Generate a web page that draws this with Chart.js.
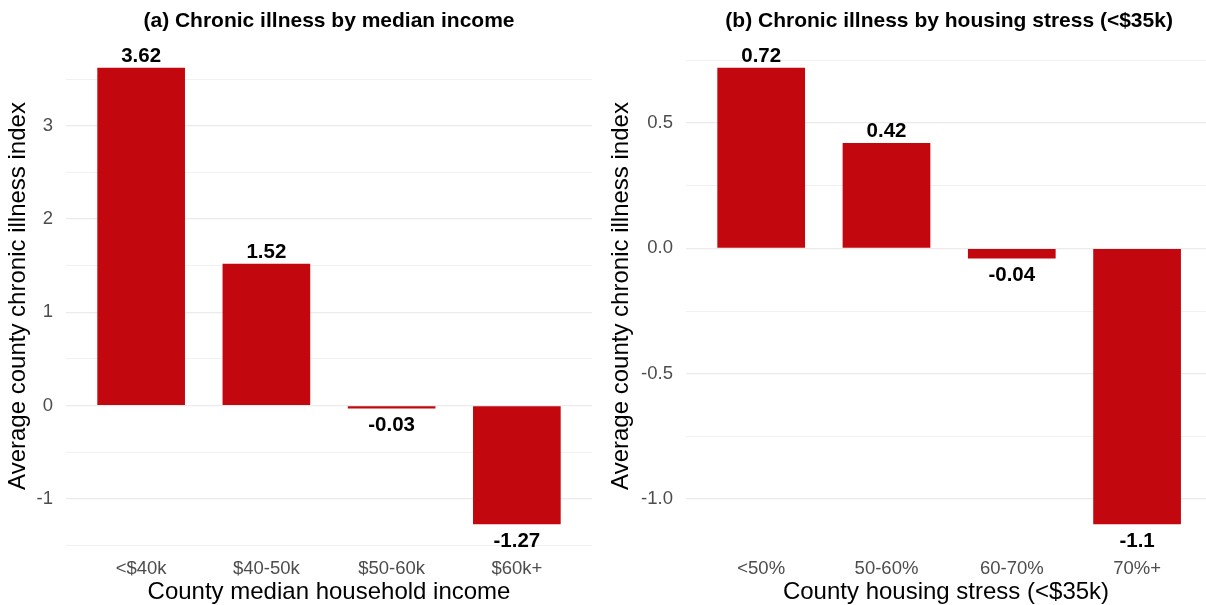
<!DOCTYPE html>
<html>
<head>
<meta charset="utf-8">
<title>Chronic illness index</title>
<script src="https://cdn.jsdelivr.net/npm/chart.js@4/dist/chart.umd.min.js"></script>
<style>
  body { margin: 0; background: #fff; }
  .wrap { display: flex; width: 1206px; height: 605px; }
  .panel { position: relative; width: 603px; height: 605px; }
</style>
</head>
<body>
<div class="wrap">
  <div class="panel"><canvas id="incomeChart"></canvas></div>
  <div class="panel"><canvas id="stressChart"></canvas></div>
</div>
<script>
// panel (a): median household income groups
const incomeGroups = ['<$40k', '$40-50k', '$50-60k', '$60k+'];
const incomeIndex = [3.62, 1.52, -0.03, -1.27];
const incomeTicks = [-1, 0, 1, 2, 3];

// panel (b): housing stress among <$35k households
const stressGroups = ['<50%', '50-60%', '60-70%', '70%+'];
const stressIndex = [0.72, 0.42, -0.04, -1.1];
const stressTicks = [-1.0, -0.5, 0.0, 0.5];

const FONT = '"Liberation Sans", Arial, Helvetica, sans-serif';
const BAR_RED = '#c3070f';
const GRID = '#ebebeb';

// value labels above/below the bars + panel title
const barText = {
  id: 'barText',
  afterDatasetsDraw(chart, args, opts) {
    const ctx = chart.ctx;
    const meta = chart.getDatasetMeta(0);
    const values = chart.data.datasets[0].data;
    ctx.save();
    ctx.fillStyle = '#000';
    ctx.textAlign = 'center';
    ctx.font = 'bold 20.5px ' + FONT;
    meta.data.forEach((bar, i) => {
      const v = values[i].y;
      if (v >= 0) {
        ctx.textBaseline = 'bottom';
        ctx.fillText(String(v), bar.x, bar.y - 1);
      } else {
        ctx.textBaseline = 'top';
        ctx.fillText(String(v), bar.x, bar.y + 7);
      }
    });
    ctx.font = 'bold 21px ' + FONT;
    ctx.textBaseline = 'middle';
    ctx.fillText(opts.text, chart.scales.x.getPixelForValue(1.5), 21);
    ctx.restore();
  }
};

function drawPanel(id, groups, values, majors, step, yMin, yMax, xMax, axisW, rightPad, xTitle, title, digits) {
  // grid every half step, labels only on the majors
  const gridVals = [];
  for (let v = majors[0] - step; v <= majors[majors.length - 1] + step + 1e-9; v += step / 2) {
    const r = Math.round(v * 1000) / 1000;
    if (r >= yMin && r <= yMax) gridVals.push(r);
  }
  const isMajor = v => majors.some(m => Math.abs(m - v) < 1e-9);

  return new Chart(document.getElementById(id), {
    type: 'bar',
    data: {
      datasets: [{
        data: values.map((v, i) => ({ x: i, y: v })),
        backgroundColor: BAR_RED,
        borderWidth: 0,
        barPercentage: 0.7,
        categoryPercentage: 1.0
      }]
    },
    plugins: [barText],
    options: {
      responsive: true,
      maintainAspectRatio: false,
      animation: false,
      devicePixelRatio: 1,
      layout: { padding: { top: 45, left: 0, right: rightPad, bottom: 0 } },
      plugins: {
        legend: { display: false },
        tooltip: { enabled: false },
        barText: { text: title }
      },
      scales: {
        x: {
          type: 'linear',
          offset: false,
          min: -0.6,
          max: xMax,
          afterBuildTicks: s => { s.ticks = groups.map((g, i) => ({ value: i })); },
          afterFit: s => { s.height = 58; },
          grid: { display: false, offset: false },
          border: { display: false },
          ticks: {
            color: '#4d4d4d',
            font: { family: FONT, size: 18.5 },
            padding: 3,
            autoSkip: false,
            maxRotation: 0,
            callback: v => groups[v]
          },
          title: {
            display: true,
            text: xTitle,
            color: '#000',
            font: { family: FONT, size: 24 },
            padding: { top: 0, bottom: -2 }
          }
        },
        y: {
          min: yMin,
          max: yMax,
          afterBuildTicks: s => { s.ticks = gridVals.map(v => ({ value: v })); },
          afterFit: s => { s.width = axisW; },
          grid: {
            color: GRID,
            drawTicks: false,
            lineWidth: c => isMajor(c.tick.value) ? 1.3 : 0.7
          },
          border: { display: false },
          ticks: {
            color: '#4d4d4d',
            font: { family: FONT, size: 18.5 },
            padding: 13,
            callback: v => isMajor(v) ? v.toFixed(digits) : ''
          },
          title: {
            display: true,
            text: 'Average county chronic illness index',
            color: '#000',
            font: { family: FONT, size: 24 },
            padding: { top: 4, bottom: 0 }
          }
        }
      }
    }
  });
}

drawPanel('incomeChart', incomeGroups, incomeIndex, incomeTicks, 1,
  -1.5145, 3.8645, 3.6, 66, 11,
  'County median household income', '(a) Chronic illness by median income', 0);

drawPanel('stressChart', stressGroups, stressIndex, stressTicks, 0.5,
  -1.191, 0.811, 3.55, 83, 0,
  'County housing stress (<$35k)', '(b) Chronic illness by housing stress (<$35k)', 1);
</script>
</body>
</html>
